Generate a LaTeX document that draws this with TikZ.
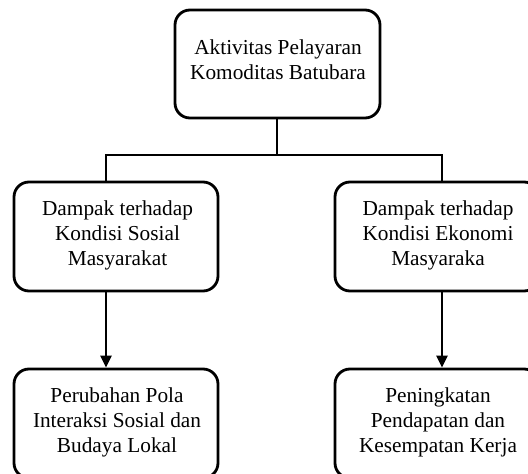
\documentclass[tikz,border=0pt]{standalone}
\usepackage{fontspec}
\setmainfont{Liberation Serif}
\usetikzlibrary{arrows.meta}
\begin{document}
\begin{tikzpicture}[x=1pt,y=-1pt,
  box/.style={draw=black,line width=2.8pt,rounded corners=15pt,inner sep=0pt,fill=white},
  txt/.style={align=center,inner sep=0pt,font=\fontsize{21.3}{25}\selectfont},
  conn/.style={draw=black,line width=2.8pt},
  arr/.style={conn,-{Triangle[width=11pt,length=12pt]}}]
\useasboundingbox (0,0) rectangle (528,474);
\clip (0,0) rectangle (528,474);
% boxes
\node[box,minimum width=205pt,minimum height=108pt] (top) at (277.5,64) {};
\node[box,minimum width=204pt,minimum height=109pt] (midL) at (116,236.5) {};
\node[box,minimum width=204pt,minimum height=109pt] (midR) at (437,236.5) {};
\node[box,minimum width=204pt,minimum height=109pt] (botL) at (116,423.5) {};
\node[box,minimum width=204pt,minimum height=109pt] (botR) at (437,423.5) {};
% texts
\node[txt] (topT) at (278,60) {Aktivitas Pelayaran\\Komoditas Batubara};
\node[txt] (midLT) at (117.5,235.6) {Dampak terhadap\\Kondisi Sosial\\Masyarakat};
\node[txt] (midRT) at (438,235.6) {Dampak terhadap\\Kondisi Ekonomi\\Masyaraka};
\node[txt] (botLT) at (117,422.5) {Perubahan Pola\\Interaksi Sosial dan\\Budaya Lokal};
\node[txt] (botRT) at (438,422.5) {Peningkatan\\Pendapatan dan\\Kesempatan Kerja};
% connectors
\coordinate (busL) at (106,155);
\coordinate (busR) at (442,155);
\coordinate (busM) at (277,155);
\draw[conn] (top.south -| busM) -- (busM);
\draw[conn,line cap=rect] (busL) -- (busR);
\draw[conn] (busL) -- (busL |- midL.north);
\draw[conn] (busR) -- (busR |- midR.north);
\draw[arr] (busL |- midL.south) -- (busL |- botL.north);
\draw[arr] (busR |- midR.south) -- (busR |- botR.north);
\end{tikzpicture}
\end{document}
